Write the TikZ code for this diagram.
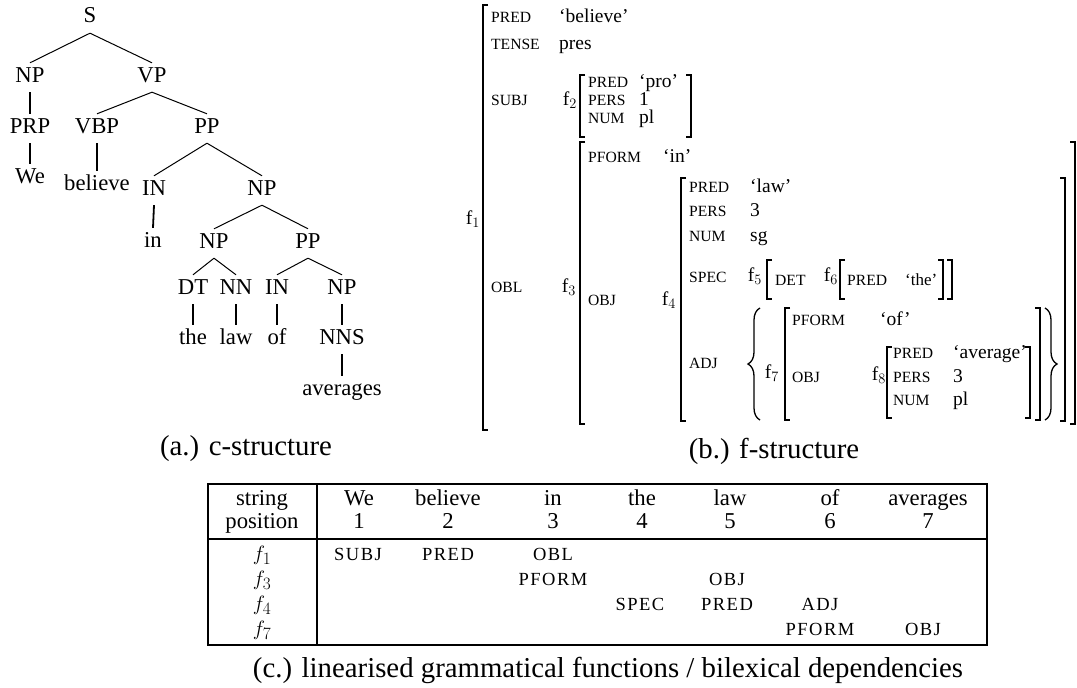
\documentclass[tikz,border=0pt]{standalone}
\usepackage{fontspec}
\setmainfont{Liberation Serif}
\usetikzlibrary{decorations.pathreplacing}
\newcommand\treefont{\fontsize{22.7}{27}\selectfont}
\newcommand\capfont{\fontsize{28.8}{34}\selectfont}
\newcommand\valfont{\fontsize{19.5}{23}\selectfont}
\newcommand\smvalfont{\fontsize{17}{20}\selectfont}
\newcommand\attfont{\fontsize{15.6}{18}\selectfont}
\newcommand\gffont{\fontsize{18.5}{22}\selectfont\addfontfeature{LetterSpace=8}}
\begin{document}
\begin{tikzpicture}[x=1pt,y=-1pt,
  tn/.style={font=\treefont, anchor=base, text height=15pt, text depth=6pt, inner sep=4pt},
  edge/.style={line width=1pt},
  vedge/.style={line width=1.8pt},
  att/.style={font=\attfont, anchor=base west, inner sep=0pt},
  val/.style={font=\valfont, anchor=base west, inner sep=0pt},
  flab/.style={font=\valfont, anchor=base east, inner sep=0pt},
  brk/.style={line width=1.3pt},
  curly/.style={line width=1.3pt, decorate, decoration={brace, amplitude=12pt}},
  tb/.style={font=\treefont, anchor=base, inner sep=0pt},
  gf/.style={font=\gffont, anchor=base, inner sep=0pt},
  tabline/.style={line width=2pt},
  captext/.style={font=\capfont, anchor=base, inner sep=0pt}]
\useasboundingbox (0,0) rectangle (1077,688);
% ---------- c-structure ----------
\node[tn] (S) at (90,23) {S};
\node[tn] (NP1) at (30,82) {NP};
\node[tn] (VP) at (152,82) {VP};
\node[tn] (PRP) at (30,133) {PRP};
\node[tn] (VBP) at (97,133) {VBP};
\node[tn] (PP1) at (207,133) {PP};
\node[tn] (We) at (30,183) {We};
\node[tn] (believe) at (97,190) {believe};
\node[tn] (IN1) at (154,195) {IN};
\node[tn] (NP2) at (262,195) {NP};
\node[tn] (in) at (153,247) {in};
\node[tn] (NP3) at (214,248) {NP};
\node[tn] (PP2) at (308,248) {PP};
\node[tn] (DT) at (193,294) {DT};
\node[tn] (NN) at (236,294) {NN};
\node[tn] (IN2) at (277,294) {IN};
\node[tn] (NP4) at (342,294) {NP};
\node[tn] (the) at (193,344) {the};
\node[tn] (law) at (236,344) {law};
\node[tn] (of) at (277,344) {of};
\node[tn] (NNS) at (342,344) {NNS};
\node[tn] (avg) at (342,395) {averages};
\draw[edge] (S.south) -- (NP1.north);
\draw[edge] (S.south) -- (VP.north);
\draw[vedge] (NP1.south) -- (PRP.north);
\draw[edge] (VP.south) -- (VBP.north);
\draw[edge] (VP.south) -- (PP1.north);
\draw[vedge] (PRP.south) -- (We.north);
\draw[vedge] (VBP.south) -- (believe.north);
\draw[edge] (PP1.south) -- (IN1.north);
\draw[edge] (PP1.south) -- (NP2.north);
\draw[vedge] (IN1.south) -- (in.north);
\draw[edge] (NP2.south) -- (NP3.north);
\draw[edge] (NP2.south) -- (PP2.north);
\draw[edge] (NP3.south) -- (DT.north);
\draw[edge] (NP3.south) -- (NN.north);
\draw[edge] (PP2.south) -- (IN2.north);
\draw[edge] (PP2.south) -- (NP4.north);
\draw[vedge] (DT.south) -- (the.north);
\draw[vedge] (NN.south) -- (law.north);
\draw[vedge] (IN2.south) -- (of.north);
\draw[vedge] (NP4.south) -- (NNS.north);
\draw[vedge] (NNS.south) -- (avg.north);
\node[captext] (capa) at (246,455) {(a.) c-structure};
% ---------- f-structure ----------
% f1
\draw[brk] (488,5) -| (483,430) -- ++(5,0);
\node[flab] (l1) at (480,224) {f$_1$};
\node[att] (a1) at (491,23) {PRED};  \node[val] (v1) at (559,23) {‘believe’};
\node[att] (a2) at (491,49) {TENSE}; \node[val] (v2) at (559,49) {pres};
\node[att] (a3) at (491,105) {SUBJ}; \node[flab] (l2) at (577,105) {f$_2$};
\node[att] (a4) at (491,292) {OBL};  \node[flab] (l3) at (576,292) {f$_3$};
% f2
\draw[brk] (585,75) -| (580,137) -- ++(5,0);
\draw[brk] (686,75) -| (691,137) -- ++(-5,0);
\node[att] (b1) at (588,87) {PRED};  \node[val] (w1) at (639,87) {‘pro’};
\node[att] (b2) at (588,105) {PERS}; \node[val] (w2) at (639,105) {1};
\node[att] (b3) at (588,123) {NUM};  \node[val] (w3) at (639,123) {pl};
% f3
\draw[brk] (585,142) -| (580,424) -- ++(5,0);
\draw[brk] (1070,142) -| (1075,424) -- ++(-5,0);
\node[att] (c1) at (588,162) {PFORM}; \node[val] (x1) at (663,162) {‘in’};
\node[att] (c2) at (588,305) {OBJ};   \node[flab] (l4) at (676,305) {f$_4$};
% f4
\draw[brk] (686,178) -| (681,421) -- ++(5,0);
\draw[brk] (1060,178) -| (1065,421) -- ++(-5,0);
\node[att] (d1) at (689,192) {PRED}; \node[val] (y1) at (750,192) {‘law’};
\node[att] (d2) at (689,216) {PERS}; \node[val] (y2) at (750,216) {3};
\node[att] (d3) at (689,241) {NUM};  \node[val] (y3) at (750,241) {sg};
\node[att] (d4) at (689,282) {SPEC}; \node[flab] (l5) at (762,281) {f$_5$};
\node[att] (d5) at (689,368) {ADJ};
% f5 / f6
\draw[brk] (772,260) -| (767,299) -- ++(5,0);
\draw[brk] (947,260) -| (952,299) -- ++(-5,0);
\node[att] (e1) at (775,285) {DET}; \node[flab] (l6) at (838,281) {f$_6$};
\draw[brk] (845,260) -| (840,299) -- ++(5,0);
\draw[brk] (938,260) -| (943,299) -- ++(-5,0);
\node[att] (e2) at (847,285) {PRED}; \node[val, font=\smvalfont] (z1) at (905,285) {‘the’};
% ADJ set
\draw[curly] (760,420) -- (760,308);
\draw[curly] (1045,308) -- (1045,420);
% f7
\node[flab] (l7) at (779,378) {f$_7$};
\draw[brk] (790,308) -| (785,420) -- ++(5,0);
\draw[brk] (1035,308) -| (1040,420) -- ++(-5,0);
\node[att] (g1) at (792,325) {PFORM}; \node[val] (u1) at (880,325) {‘of’};
\node[att] (g2) at (792,382) {OBJ};   \node[flab] (l8) at (886,380) {f$_8$};
% f8
\draw[brk] (892,347) -| (887,418) -- ++(5,0);
\draw[brk] (1025,347) -| (1030,418) -- ++(-5,0);
\node[att] (h1) at (893,358) {PRED}; \node[val] (t1) at (953,358) {‘average’};
\node[att] (h2) at (893,382) {PERS}; \node[val] (t2) at (953,382) {3};
\node[att] (h3) at (893,405) {NUM};  \node[val] (t3) at (953,405) {pl};
\node[captext] (capb) at (774,458) {(b.) f-structure};
% ---------- table ----------
\draw[tabline] (208,484) rectangle (987,645);
\draw[tabline] (208,539) -- (987,539);
\draw[tabline] (317,484) -- (317,645);
\node[tb] (hs) at (262,505) {string};
\node[tb] (hp) at (262,528) {position};
\node[tb] (w1t) at (359,505) {We};       \node[tb] (n1) at (359,528) {1};
\node[tb] (w2t) at (448,505) {believe};  \node[tb] (n2) at (448,528) {2};
\node[tb] (w3t) at (553,505) {in};       \node[tb] (n3) at (553,528) {3};
\node[tb] (w4t) at (642,505) {the};      \node[tb] (n4) at (642,528) {4};
\node[tb] (w5t) at (730,505) {law};      \node[tb] (n5) at (730,528) {5};
\node[tb] (w6t) at (830,505) {of};       \node[tb] (n6) at (830,528) {6};
\node[tb] (w7t) at (928,505) {averages}; \node[tb] (n7) at (928,528) {7};
\node[tb] (r1) at (262,560) {$f_1$};
\node[tb] (r3) at (262,585) {$f_3$};
\node[tb] (r4) at (262,610) {$f_4$};
\node[tb] (r7) at (262,635) {$f_7$};
\node[gf] (g11) at (358,560) {SUBJ};
\node[gf] (g12) at (448,560) {PRED};
\node[gf] (g13) at (553,560) {OBL};
\node[gf] (g31) at (553,585) {PFORM};
\node[gf] (g32) at (727,585) {OBJ};
\node[gf] (g41) at (640,610) {SPEC};
\node[gf] (g42) at (727,610) {PRED};
\node[gf] (g43) at (820,610) {ADJ};
\node[gf] (g71) at (820,635) {PFORM};
\node[gf] (g72) at (923,635) {OBJ};
\node[captext] (capc) at (608,677) {(c.) linearised grammatical functions / bilexical dependencies};
\end{tikzpicture}
\end{document}
